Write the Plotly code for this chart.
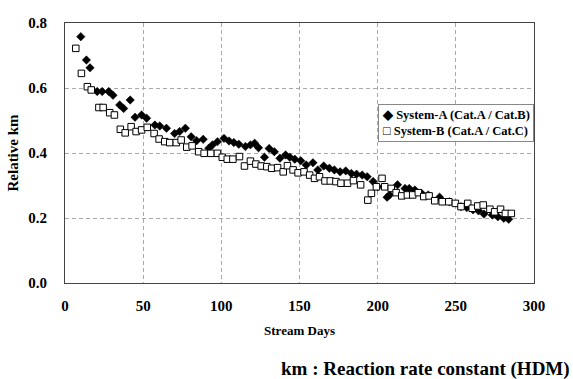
import plotly.graph_objects as go

# ---- data ----
days_a = [10.1, 13.7, 16.0, 20.6, 23.8, 28.0, 30.7, 35.0, 37.5, 41.7, 44.8, 49.0, 52.2, 57.5, 60.6,
          64.9, 70.1, 73.3, 77.0, 80.7, 84.2, 88.4, 92.0, 94.3, 97.5, 101.7, 104.9, 108.0, 111.2,
          115.4, 118.6, 121.3, 123.8, 127.6, 130.6, 133.9, 137.5, 141.1, 143.8, 147.0, 150.8,
          154.3, 158.6, 161.7, 165.5, 169.1, 172.3, 176.0, 179.6, 183.2, 186.5, 190.1, 193.3,
          197.1, 200.0, 206.0, 207.6, 212.7, 217.5, 220.2, 223.8, 228.0, 232.3, 239.6, 245.9,
          253.3, 257.0, 261.0, 264.5, 268.0, 273.3, 276.9, 280.7, 283.8]
km_a = [0.758, 0.686, 0.662, 0.589, 0.589, 0.589, 0.578, 0.548, 0.537, 0.563, 0.510, 0.517, 0.507,
        0.486, 0.483, 0.476, 0.460, 0.466, 0.476, 0.450, 0.438, 0.442, 0.415, 0.425, 0.435, 0.445,
        0.437, 0.432, 0.427, 0.420, 0.425, 0.430, 0.416, 0.387, 0.414, 0.404, 0.384, 0.394, 0.387,
        0.381, 0.376, 0.363, 0.370, 0.348, 0.360, 0.353, 0.348, 0.342, 0.345, 0.337, 0.335, 0.332,
        0.327, 0.312, 0.296, 0.264, 0.271, 0.302, 0.291, 0.291, 0.286, 0.276, 0.271, 0.264, 0.250,
        0.235, 0.232, 0.225, 0.222, 0.212, 0.209, 0.204, 0.199, 0.196]

days_b = [6.9, 10.5, 14.3, 16.8, 21.7, 24.4, 28.6, 31.6, 35.4, 38.5, 42.3, 45.5, 49.0, 52.6, 57.0,
          60.2, 63.8, 67.0, 71.2, 74.3, 77.9, 81.3, 85.5, 89.0, 93.3, 97.5, 100.6, 103.8, 107.4,
          111.6, 114.8, 118.6, 122.1, 125.5, 129.1, 132.2, 136.0, 139.6, 142.3, 145.9, 149.1,
          152.9, 156.5, 159.6, 162.8, 166.3, 169.7, 173.3, 176.5, 180.7, 184.5, 189.1, 193.7,
          196.0, 199.2, 202.8, 204.5, 208.7, 211.8, 215.4, 219.0, 222.4, 226.0, 229.5, 232.9,
          236.5, 241.3, 245.5, 249.7, 253.3, 257.6, 260.5, 264.0, 267.5, 271.8, 274.8, 278.6,
          281.7, 285.5]
km_b = [0.722, 0.645, 0.604, 0.594, 0.540, 0.540, 0.524, 0.517, 0.473, 0.462, 0.481, 0.466, 0.471,
        0.479, 0.460, 0.443, 0.435, 0.432, 0.432, 0.440, 0.418, 0.422, 0.404, 0.399, 0.399, 0.399,
        0.387, 0.381, 0.381, 0.389, 0.360, 0.375, 0.366, 0.360, 0.358, 0.353, 0.355, 0.342, 0.361,
        0.348, 0.339, 0.342, 0.332, 0.322, 0.327, 0.314, 0.314, 0.312, 0.307, 0.307, 0.315, 0.302,
        0.255, 0.276, 0.296, 0.322, 0.296, 0.291, 0.278, 0.268, 0.271, 0.271, 0.278, 0.266, 0.268,
        0.253, 0.250, 0.250, 0.245, 0.235, 0.245, 0.230, 0.237, 0.240, 0.227, 0.219, 0.227, 0.214,
        0.214]

name_a = "System-A (Cat.A / Cat.B)"
name_b = "System-B (Cat.A / Cat.C)"
x_ticks = [0, 50, 100, 150, 200, 250, 300]
y_ticks = [0.0, 0.2, 0.4, 0.6, 0.8]

FONT = "Liberation Serif"

fig = go.Figure()
fig.add_trace(go.Scatter(x=days_a, y=km_a, mode="markers", name=name_a, showlegend=False,
                         marker=dict(symbol="diamond", size=6.5, color="black",
                                     line=dict(color="black", width=0.5))))
fig.add_trace(go.Scatter(x=days_b, y=km_b, mode="markers", name=name_b, showlegend=False,
                         marker=dict(symbol="square", size=6.5, color="white",
                                     line=dict(color="black", width=1))))

fig.update_layout(
    width=573, height=379,
    margin=dict(l=59, r=39, t=23, b=96),
    paper_bgcolor="white", plot_bgcolor="white",
    font=dict(family=FONT, color="black"),
)
fig.update_xaxes(
    range=[0, 300], tickvals=x_ticks, ticktext=[str(v) for v in x_ticks],
    showgrid=True, gridcolor="#aaaaaa", griddash="4px,3px", gridwidth=1,
    showline=True, linecolor="#444444", linewidth=1, mirror=True,
    ticks="outside", ticklen=9, tickcolor="rgba(0,0,0,0)",
    tickfont=dict(size=15, weight="bold", family=FONT),
    title=dict(text="Stream Days", font=dict(size=13, weight="bold", family=FONT), standoff=12),
    zeroline=False,
)
fig.update_yaxes(
    range=[0, 0.8], tickvals=y_ticks, ticktext=[f"{v:.1f}" for v in y_ticks],
    showgrid=True, gridcolor="#aaaaaa", griddash="4px,3px", gridwidth=1,
    showline=True, linecolor="#444444", linewidth=1, mirror=True,
    ticks="outside", ticklen=14, tickcolor="rgba(0,0,0,0)",
    tickfont=dict(size=15, weight="bold", family=FONT),
    title=dict(text="Relative km", font=dict(size=15, weight="bold", family=FONT), standoff=6),
    zeroline=False,
)

# legend box (text-style, as in the original)
fig.add_annotation(
    xref="paper", yref="paper", x=1.0, y=0.69, xanchor="right", yanchor="top",
    text="◆ " + name_a + "<br>□ " + name_b,
    align="left", showarrow=False,
    font=dict(size=12.5, weight="bold", family=FONT, color="black"),
    bordercolor="#888888", borderwidth=1, borderpad=3, bgcolor="white",
)

# footnote
fig.add_annotation(
    xref="paper", yref="paper", x=(572 - 59) / 475, y=-(369 - 283) / 260,
    xanchor="right", yanchor="middle",
    text="km : Reaction rate constant (HDM)", showarrow=False,
    font=dict(size=19, weight="bold", family=FONT, color="black"),
)

fig.write_html("out.html")
